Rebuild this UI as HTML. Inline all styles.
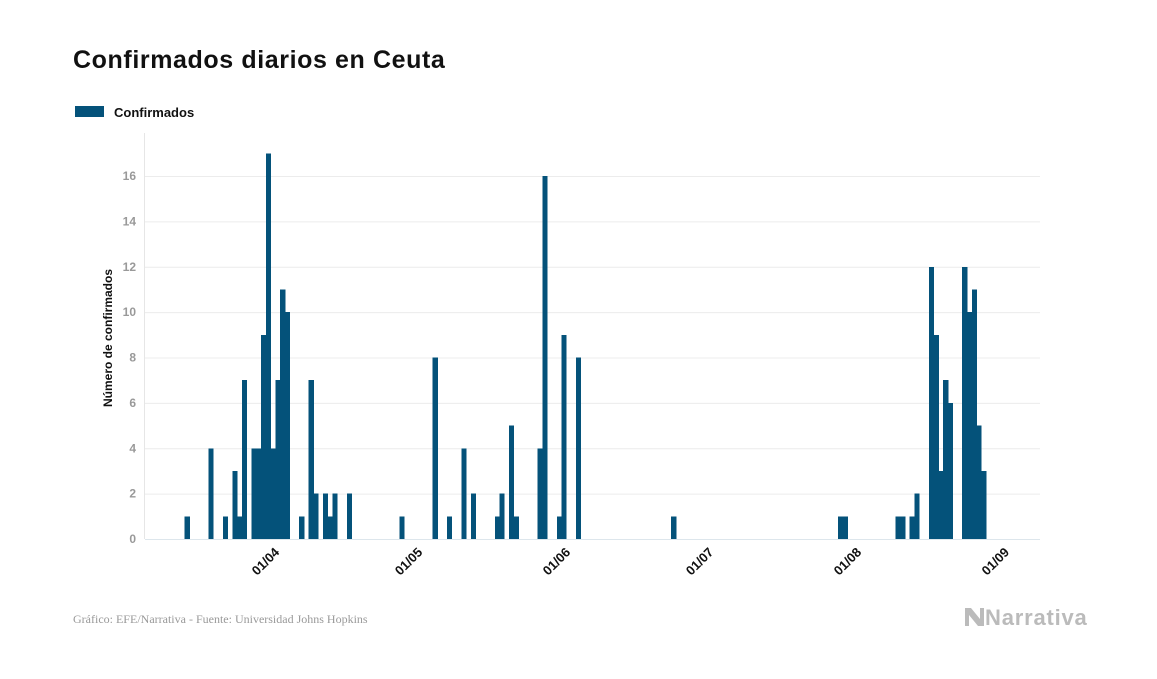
<!DOCTYPE html>
<html><head><meta charset="utf-8"><style>
body{margin:0;background:#fff;width:1157px;height:674px;overflow:hidden;font-family:"Liberation Sans",sans-serif}
</style></head><body>
<svg width="1157" height="674" xmlns="http://www.w3.org/2000/svg">
<text x="73" y="68" font-size="25" font-weight="bold" letter-spacing="0.6" fill="#111">Confirmados diarios en Ceuta</text>
<g>
<rect x="75" y="106" width="29" height="11" fill="#04527a"/>
<text x="114" y="117" font-size="13" font-weight="bold" fill="#111">Confirmados</text>
</g>
<text transform="translate(112,338) rotate(-90)" text-anchor="middle" font-size="12" font-weight="bold" fill="#111">Número de confirmados</text>
<line x1="144.5" y1="133" x2="144.5" y2="539" stroke="#e6e6e6"/>
<g id="grid"></g><g id="bars" shape-rendering="crispEdges"></g><g id="xt"></g>
<text x="73" y="623" font-family="Liberation Serif, serif" font-size="12" fill="#999">Gráfico: EFE/Narrativa - Fuente: Universidad Johns Hopkins</text>
<g>
<path d="M965 608 l6 0 l9 11 l0 -11 l4 0 l0 18 l-6 0 l-9 -11 l0 11 l-4 0 z" fill="#bbb"/>
<text x="985" y="625" font-size="22" font-weight="bold" letter-spacing="0.8" fill="#bbb">Narrativa</text>
</g>
</svg>
<script>
const startLabel = "15/03";
const values = [1,0,0,0,0,4,0,0,1,0,3,1,7,0,4,4,9,17,4,7,11,10,0,0,1,0,7,2,0,2,1,2,0,0,2,0,0,0,0,0,0,0,0,0,0,1,0,0,0,0,0,0,8,0,0,1,0,0,4,0,2,0,0,0,0,1,2,0,5,1,0,0,0,0,4,16,0,0,1,9,0,0,8,0,0,0,0,0,0,0,0,0,0,0,0,0,0,0,0,0,0,0,1,0,0,0,0,0,0,0,0,0,0,0,0,0,0,0,0,0,0,0,0,0,0,0,0,0,0,0,0,0,0,0,0,0,0,1,1,0,0,0,0,0,0,0,0,0,0,1,1,0,1,2,0,0,12,9,3,7,6,0,0,12,10,11,5,3,0,0,0];
const yTicks = [0,2,4,6,8,10,12,14,16];
const xTickDays = [17,47,78,108,139,170];
const xTickLabels = ["01/04","01/05","01/06","01/07","01/08","01/09"];
const NS="http://www.w3.org/2000/svg";
const y0=539, yPer=(539-176)/16, x0=184.7, dw=4.77;
const ys=v=>y0-v*yPer, xs=i=>x0+i*dw;
const grid=document.getElementById('grid'), bars=document.getElementById('bars'), xt=document.getElementById('xt');
yTicks.forEach(t=>{
  const l=document.createElementNS(NS,'line');
  l.setAttribute('x1',145);l.setAttribute('x2',1040);l.setAttribute('y1',ys(t)+0.5);l.setAttribute('y2',ys(t)+0.5);
  l.setAttribute('stroke',t===0?'#dde6ec':'#ececec');
  
  
  grid.appendChild(l);
  const tx=document.createElementNS(NS,'text');
  tx.setAttribute('x',136);tx.setAttribute('y',ys(t)+4);tx.setAttribute('text-anchor','end');
  tx.setAttribute('font-size','12');tx.setAttribute('font-weight','bold');tx.setAttribute('fill','#999');
  tx.textContent=t;
  
  
  grid.appendChild(tx);
});
values.forEach((v,i)=>{
  if(!v) return;
  const r=document.createElementNS(NS,'rect');
  r.setAttribute('x',xs(i));r.setAttribute('width',dw+0.4);r.setAttribute('y',ys(v));r.setAttribute('height',v*yPer);
  r.setAttribute('fill','#04527a');
  
  
  bars.appendChild(r);
});
xTickDays.forEach((d,k)=>{
  const cx=xs(d)+dw/2;
  const tx=document.createElementNS(NS,'text');
  tx.setAttribute('transform','translate('+(cx+12)+',553) rotate(-45)');
  tx.setAttribute('text-anchor','end');tx.setAttribute('font-size','13');tx.setAttribute('font-weight','bold');tx.setAttribute('fill','#111');
  tx.textContent=xTickLabels[k];
  
  
  xt.appendChild(tx);
});
</script>
</body></html>
